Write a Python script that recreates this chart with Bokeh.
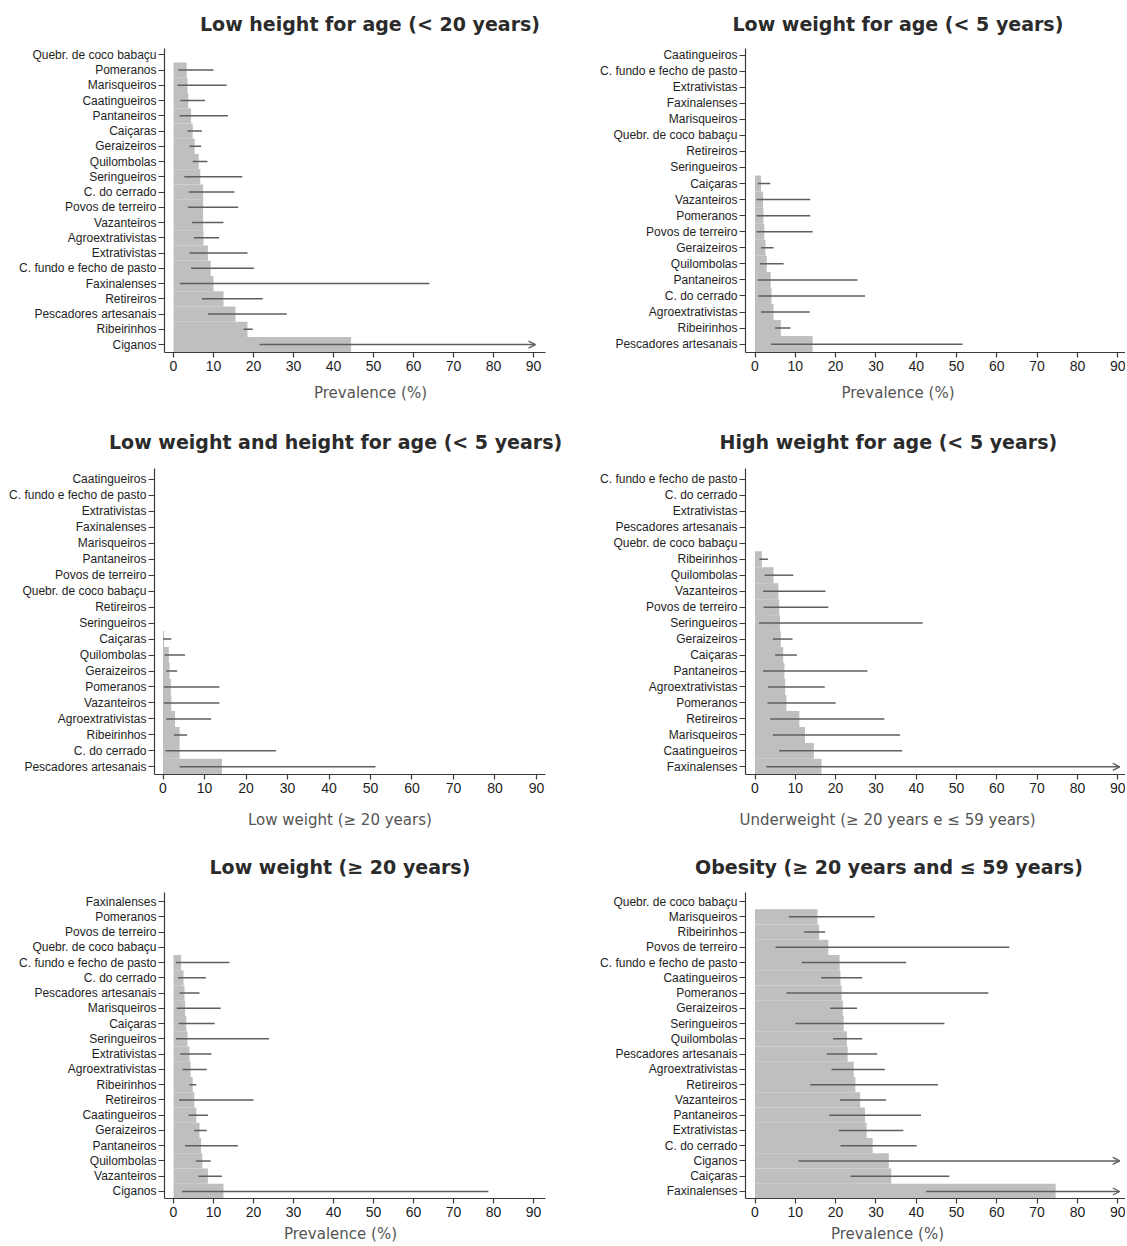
import math
from bokeh.plotting import figure
from bokeh.models import Range1d, FixedTicker, ColumnDataSource, Arrow, OpenHead, Title
from bokeh.layouts import column, row
from bokeh.embed import file_html
from bokeh.resources import INLINE

NA = float("nan")   # no estimate
OPEN = None         # upper limit beyond the axis (drawn as an arrow)

x_ticks = [0, 10, 20, 30, 40, 50, 60, 70, 80, 90]

# ---------------- Panel 1 ----------------
p1_title = "Low height for age (< 20 years)"
p1_xlabel = "Prevalence (%)"
p1_groups = ["Quebr. de coco babaçu", "Pomeranos", "Marisqueiros", "Caatingueiros", "Pantaneiros",
             "Caiçaras", "Geraizeiros", "Quilombolas", "Seringueiros", "C. do cerrado",
             "Povos de terreiro", "Vazanteiros", "Agroextrativistas", "Extrativistas",
             "C. fundo e fecho de pasto", "Faxinalenses", "Retireiros", "Pescadores artesanais",
             "Ribeirinhos", "Ciganos"]
p1_prev = [0, 3.3, 3.5, 3.7, 4.4, 4.8, 5.3, 6.3, 6.7, 7.4, 7.4, 7.4, 7.5, 8.6, 9.3, 10.0, 12.5, 15.5, 18.5, 44.4]
p1_low = [NA, 1.2, 1.0, 1.7, 1.5, 3.5, 4.0, 4.8, 2.7, 3.8, 3.6, 4.6, 5.1, 4.0, 4.4, 1.6, 7.1, 8.6, 17.5, 21.5]
p1_high = [NA, 10.0, 13.3, 7.9, 13.6, 7.1, 6.9, 8.5, 17.2, 15.2, 16.2, 12.5, 11.4, 18.5, 20.1, 64.0, 22.3, 28.3, 19.8, OPEN]

# ---------------- Panel 2 ----------------
p2_title = "Low weight for age (< 5 years)"
p2_xlabel = "Prevalence (%)"
p2_groups = ["Caatingueiros", "C. fundo e fecho de pasto", "Extrativistas", "Faxinalenses", "Marisqueiros",
             "Quebr. de coco babaçu", "Retireiros", "Seringueiros", "Caiçaras", "Vazanteiros",
             "Pomeranos", "Povos de terreiro", "Geraizeiros", "Quilombolas", "Pantaneiros",
             "C. do cerrado", "Agroextrativistas", "Ribeirinhos", "Pescadores artesanais"]
p2_prev = [0, 0, 0, 0, 0, 0, 0, 0, 1.5, 2.0, 2.1, 2.3, 2.6, 2.9, 3.9, 4.1, 4.6, 6.4, 14.3]
p2_low = [NA, NA, NA, NA, NA, NA, NA, NA, 0.7, 0.4, 0.4, 0.4, 1.5, 1.2, 0.7, 0.8, 1.5, 5.0, 4.0]
p2_high = [NA, NA, NA, NA, NA, NA, NA, NA, 3.8, 13.7, 13.7, 14.3, 4.6, 7.1, 25.4, 27.3, 13.6, 8.8, 51.5]

# ---------------- Panel 3 ----------------
p3_title = "Low weight and height for age (< 5 years)"
p3_xlabel = "Low weight (≥ 20 years)"
p3_groups = ["Caatingueiros", "C. fundo e fecho de pasto", "Extrativistas", "Faxinalenses", "Marisqueiros",
             "Pantaneiros", "Povos de terreiro", "Quebr. de coco babaçu", "Retireiros", "Seringueiros",
             "Caiçaras", "Quilombolas", "Geraizeiros", "Pomeranos", "Vazanteiros",
             "Agroextrativistas", "Ribeirinhos", "C. do cerrado", "Pescadores artesanais"]
p3_prev = [0, 0, 0, 0, 0, 0, 0, 0, 0, 0, 0.25, 1.4, 1.6, 1.9, 2.0, 2.9, 4.0, 4.0, 14.2]
p3_low = [NA, NA, NA, NA, NA, NA, NA, NA, NA, NA, 0.0, 0.4, 0.8, 0.2, 0.2, 0.8, 2.6, 0.6, 4.0]
p3_high = [NA, NA, NA, NA, NA, NA, NA, NA, NA, NA, 2.0, 5.3, 3.4, 13.6, 13.6, 11.6, 5.8, 27.2, 51.2]

# ---------------- Panel 4 ----------------
p4_title = "High weight for age (< 5 years)"
p4_xlabel = "Underweight (≥ 20 years e ≤ 59 years)"
p4_groups = ["C. fundo e fecho de pasto", "C. do cerrado", "Extrativistas", "Pescadores artesanais",
             "Quebr. de coco babaçu", "Ribeirinhos", "Quilombolas", "Vazanteiros", "Povos de terreiro",
             "Seringueiros", "Geraizeiros", "Caiçaras", "Pantaneiros", "Agroextrativistas",
             "Pomeranos", "Retireiros", "Marisqueiros", "Caatingueiros", "Faxinalenses"]
p4_prev = [0, 0, 0, 0, 0, 1.7, 4.6, 5.8, 6.0, 6.2, 6.4, 7.0, 7.3, 7.5, 7.8, 11.0, 12.4, 14.6, 16.5]
p4_low = [NA, NA, NA, NA, NA, 1.1, 2.4, 2.0, 2.1, 1.0, 4.4, 5.0, 2.0, 3.2, 3.1, 3.8, 4.4, 6.0, 2.8]
p4_high = [NA, NA, NA, NA, NA, 3.2, 9.5, 17.5, 18.2, 41.6, 9.3, 10.4, 27.9, 17.3, 20.0, 32.1, 36.0, 36.5, OPEN]

# ---------------- Panel 5 ----------------
p5_title = "Low weight (≥ 20 years)"
p5_xlabel = "Prevalence (%)"
p5_groups = ["Faxinalenses", "Pomeranos", "Povos de terreiro", "Quebr. de coco babaçu",
             "C. fundo e fecho de pasto", "C. do cerrado", "Pescadores artesanais", "Marisqueiros",
             "Caiçaras", "Seringueiros", "Extrativistas", "Agroextrativistas", "Ribeirinhos",
             "Retireiros", "Caatingueiros", "Geraizeiros", "Pantaneiros", "Quilombolas",
             "Vazanteiros", "Ciganos"]
p5_prev = [0, 0, 0, 0, 1.9, 2.5, 2.75, 2.9, 3.2, 3.5, 4.0, 4.3, 4.8, 5.2, 5.7, 6.5, 6.9, 7.2, 8.6, 12.5]
p5_low = [NA, NA, NA, NA, 0.6, 1.1, 1.5, 0.8, 1.25, 0.6, 1.7, 2.25, 4.0, 1.4, 3.75, 5.2, 2.9, 5.6, 6.25, 2.1]
p5_high = [NA, NA, NA, NA, 14.0, 8.1, 6.5, 11.8, 10.3, 23.9, 9.5, 8.3, 5.7, 20.0, 8.6, 8.3, 16.1, 9.3, 12.1, 78.7]

# ---------------- Panel 6 ----------------
p6_title = "Obesity (≥ 20 years and ≤ 59 years)"
p6_xlabel = "Prevalence (%)"
p6_groups = ["Quebr. de coco babaçu", "Marisqueiros", "Ribeirinhos", "Povos de terreiro",
             "C. fundo e fecho de pasto", "Caatingueiros", "Pomeranos", "Geraizeiros", "Seringueiros",
             "Quilombolas", "Pescadores artesanais", "Agroextrativistas", "Retireiros", "Vazanteiros",
             "Pantaneiros", "Extrativistas", "C. do cerrado", "Ciganos", "Caiçaras", "Faxinalenses"]
p6_prev = [0, 15.5, 15.9, 18.2, 21.0, 21.2, 21.5, 21.8, 22.0, 22.8, 23.0, 24.5, 24.9, 26.1, 27.3, 27.7, 29.2, 33.2, 33.8, 74.6]
p6_low = [NA, 8.4, 12.2, 5.1, 11.6, 16.4, 7.8, 18.7, 10.0, 19.4, 17.8, 19.0, 13.7, 21.1, 18.4, 20.8, 21.2, 10.8, 23.7, 42.5]
p6_high = [NA, 29.7, 17.4, 63.1, 37.5, 26.6, 57.9, 25.3, 47.0, 26.6, 30.3, 32.2, 45.4, 32.5, 41.2, 36.8, 40.1, OPEN, 48.2, OPEN]

# ---------------- styling ----------------
BAR = "#bfbfbf"
CI = "#5e5e5e"
AXIS = "#3a3a3a"
ARROW_TIP = 90.5

def make_panel(title, xlabel, groups, prev, low, high, g):
    n = len(groups)
    ypos = [n - 1 - i for i in range(n)]
    p = figure(frame_width=g["fw"], frame_height=g["fh"],
               x_range=Range1d(g["x0"], g["x1"]),
               y_range=Range1d(-g["ybot"], n - 1 + g["ytop"]),
               output_backend="svg", toolbar_location=None,
               min_border_left=g["bl"], min_border_right=g["br"],
               min_border_top=g["bt"], min_border_bottom=g["bb"])
    p.hbar(y=ypos, left=0, right=prev, height=1.0, fill_color=BAR, line_color=None)

    seg = dict(y=[], lo=[], hi=[])
    arr = dict(y=[], lo=[], hi=[])
    for yy, lo, hi in zip(ypos, low, high):
        if lo is None or (isinstance(lo, float) and math.isnan(lo)):
            continue
        if hi is None:
            arr["y"].append(yy); arr["lo"].append(lo); arr["hi"].append(ARROW_TIP)
        else:
            seg["y"].append(yy); seg["lo"].append(lo); seg["hi"].append(hi)
    p.segment(x0="lo", y0="y", x1="hi", y1="y", source=ColumnDataSource(seg),
              line_color=CI, line_width=1.5)
    if arr["y"]:
        p.add_layout(Arrow(end=OpenHead(size=7, line_color=CI, line_width=1.3),
                           x_start="lo", y_start="y", x_end="hi", y_end="y",
                           source=ColumnDataSource(arr), line_color=CI, line_width=1.5))

    # axes
    p.yaxis.ticker = FixedTicker(ticks=ypos)
    p.yaxis.major_label_overrides = {yy: name for yy, name in zip(ypos, groups)}
    p.xaxis.ticker = FixedTicker(ticks=x_ticks)
    for ax in (p.xaxis[0], p.yaxis[0]):
        ax.axis_line_color = AXIS
        ax.axis_line_width = 1.2
        ax.major_tick_line_color = AXIS
        ax.major_tick_line_width = 1.2
        ax.major_tick_in = 0
        ax.minor_tick_line_color = None
        ax.major_label_text_font = "Liberation Sans"
        ax.major_label_text_color = "#1e1e1e"
    p.yaxis.major_tick_out = 6
    p.yaxis.major_label_standoff = 2
    p.yaxis.major_label_text_font_size = "12px"
    p.xaxis.major_tick_out = 5
    p.xaxis.major_label_standoff = 3
    p.xaxis.major_label_text_font_size = "14px"

    p.xgrid.visible = False
    p.ygrid.visible = False
    p.outline_line_color = None

    p.title.text = title
    p.title.align = "left"
    p.title.vertical_align = "top"
    p.title.offset = g["toff"]
    p.title.text_font = "DejaVu Sans"
    p.title.text_font_style = "bold"
    p.title.text_font_size = "19px"
    p.title.text_color = "#2b2b2b"
    p.title.standoff = g["tstand"]

    p.add_layout(Title(text=xlabel, align="left", offset=g["loff"],
                       text_font="DejaVu Sans", text_font_style="normal",
                       text_font_size="15px", text_color="#555555",
                       standoff=g["lstand"]), "below")
    return p

left_w = dict(bl=164, fw=381, br=30, x0=-2.25, x1=93.0)
left_w3 = dict(bl=154, fw=391, br=30, x0=-2.05, x1=92.17)
right_w = dict(bl=170, fw=380, br=0, x0=-2.36, x1=91.93)
row1 = dict(bt=48, fh=304, bb=64, ybot=0.52, ytop=0.41, tstand=23, lstand=16)
row2 = dict(bt=52, fh=306, bb=68, ybot=0.48, ytop=0.68, tstand=27, lstand=26)
row3 = dict(bt=50, fh=306, bb=48, ybot=0.46, ytop=0.59, tstand=25, lstand=6)

p1 = make_panel(p1_title, p1_xlabel, p1_groups, p1_prev, p1_low, p1_high, {**left_w, **row1, "toff": 35.5, "loff": 149.5})
p2 = make_panel(p2_title, p2_xlabel, p2_groups, p2_prev, p2_low, p2_high, {**right_w, **row1, "toff": -13, "loff": 96})
p3 = make_panel(p3_title, p3_xlabel, p3_groups, p3_prev, p3_low, p3_high, {**left_w3, **row2, "toff": -45.5, "loff": 93.5})
p4 = make_panel(p4_title, p4_xlabel, p4_groups, p4_prev, p4_low, p4_high, {**right_w, **row2, "toff": -26, "loff": -6})
p5 = make_panel(p5_title, p5_xlabel, p5_groups, p5_prev, p5_low, p5_high, {**left_w, **row3, "toff": 45, "loff": 119.5})
p6 = make_panel(p6_title, p6_xlabel, p6_groups, p6_prev, p6_low, p6_high, {**right_w, **row3, "toff": -50.5, "loff": 85.5})

layout = column(row(p1, p2), row(p3, p4), row(p5, p6))
open("out.html", "w").write(file_html(layout, INLINE))
